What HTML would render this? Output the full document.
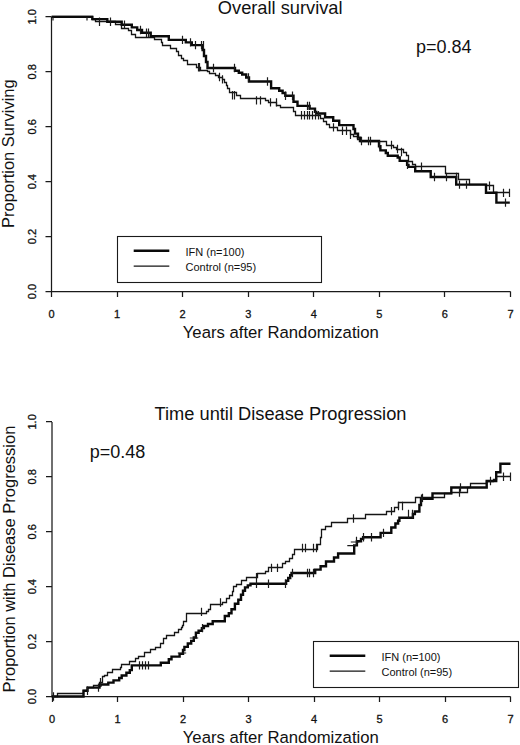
<!DOCTYPE html>
<html><head><meta charset="utf-8"><style>
html,body{margin:0;padding:0;background:#fff;}
svg{display:block;}
text{font-family:"Liberation Sans",sans-serif;fill:#111;}
.ax{fill:none;stroke:#1a1a1a;stroke-width:1.25;}
.thick{fill:none;stroke:#0a0a0a;stroke-width:2.4;stroke-linejoin:miter;stroke-linecap:butt;}
.thin{fill:none;stroke:#151515;stroke-width:1.3;}
.cen{fill:none;stroke:#1a1a1a;stroke-width:1.2;}
.tk{font-size:11px;stroke:#111;stroke-width:0.3;}
.lt{font-size:11px;}
.ti{font-size:18.25px;}
.al{font-size:16.5px;}
.yl{font-size:16.7px;}
.pv{font-size:18px;}
.lg{fill:none;stroke:#1a1a1a;stroke-width:1.1;}
</style></head><body>
<svg width="520" height="745" viewBox="0 0 520 745">
<text x="280.2" y="14.4" class="ti" text-anchor="middle">Overall survival</text>
<text x="416" y="52.8" class="pv">p=0.84</text>
<text transform="translate(14.3,153.6) rotate(-90)" class="al" text-anchor="middle">Proportion Surviving</text>
<text x="280.8" y="338.4" class="al yl" text-anchor="middle">Years after Randomization</text>
<path d="M51.50,16.90V291.50M45.50,291.50H51.50M45.50,236.50H51.50M45.50,181.50H51.50M45.50,126.50H51.50M45.50,71.50H51.50M45.50,16.50H51.50M51.50,291.50H510.50M51.50,291.50V297.00M117.50,291.50V297.00M182.50,291.50V297.00M248.50,291.50V297.00M313.50,291.50V297.00M379.50,291.50V297.00M444.50,291.50V297.00M510.50,291.50V297.00" class="ax"/><text x="51.50" y="318.20" class="tk" text-anchor="middle">0</text><text x="117.07" y="318.20" class="tk" text-anchor="middle">1</text><text x="182.64" y="318.20" class="tk" text-anchor="middle">2</text><text x="248.21" y="318.20" class="tk" text-anchor="middle">3</text><text x="313.79" y="318.20" class="tk" text-anchor="middle">4</text><text x="379.36" y="318.20" class="tk" text-anchor="middle">5</text><text x="444.93" y="318.20" class="tk" text-anchor="middle">6</text><text x="510.50" y="318.20" class="tk" text-anchor="middle">7</text><text transform="translate(36.2,291.50) rotate(-90)" class="tk" text-anchor="middle">0.0</text><text transform="translate(36.2,236.58) rotate(-90)" class="tk" text-anchor="middle">0.2</text><text transform="translate(36.2,181.66) rotate(-90)" class="tk" text-anchor="middle">0.4</text><text transform="translate(36.2,126.74) rotate(-90)" class="tk" text-anchor="middle">0.6</text><text transform="translate(36.2,71.82) rotate(-90)" class="tk" text-anchor="middle">0.8</text><text transform="translate(36.2,16.90) rotate(-90)" class="tk" text-anchor="middle">1.0</text>
<rect x="117.5" y="236.5" width="204.0" height="46.0" class="lg"/><path d="M133.7,250.75H169.3" class="thick"/><path d="M133.7,266.15H169.3" class="thin"/><text x="185.5" y="256.3" class="lt">IFN (n=100)</text><text x="185.5" y="270.6" class="lt">Control (n=95)</text>
<path d="M51.5,16.5H92.5V19.5H95.5V21.5H115.5V24.5H121.5V28.5H128.5V30.5H131.5V34.5H135.5V37.5H154.5V39.5H161.5V42.5H162.5V45.5H170.5V48.5H176.5V51.5H178.5V55.5H181.5V58.5H183.5V60.5H187.5V64.5H196.5V67.5H200.5V70.5H207.5V71.5H209.5V73.5H215.5V75.5H218.5V77.5H222.5V79.5H224.5V82.5H226.5V85.5H227.5V88.5H229.5V92.5H236.5V95.5H240.5V98.5H265.5V100.5H268.5V102.5H276.5V105.5H280.5V107.5H293.5V111.5H295.5V115.5H320.5V118.5H323.5V121.5H326.5V124.5H329.5V127.5H337.5V130.5H350.5V134.5H353.5V136.5H357.5V139.5H360.5V141.5H386.5V145.5H393.5V147.5H396.5V149.5H403.5V152.5H406.5V155.5H408.5V161.5H412.5V164.5H415.5V166.5H445.5V173.5H458.5V179.5H469.5V184.5H486.5V185.5H493.5V192.5H509.5" class="thin"/>
<path d="M51.8,16.9H92.3V19.1H107.3V21.8H121.7V24.7H131.8V27.4H137.2V30.0H142.0V32.8H150.7V36.2H168.8V39.9H185.8V42.4H191.8V45.1H202.6V50.0H204.0V56.0H206.0V62.0H207.5V68.0H235.0V70.8H238.8V72.8H242.2V74.5H246.2V77.5H249.0V81.5H271.1V88.3H279.2V90.7H282.6V93.0H285.3V95.7H293.5V101.8H297.5V105.9H309.6V108.6H315.0V111.9H316.3V113.5H325.1V117.3H333.2V120.7H339.2V125.1H353.5V129.0H355.0V133.6H358.0V137.6H360.0V141.0H379.0V146.3H380.4V150.4H385.8V153.0H387.8V155.8H397.7V157.5H399.7V160.9H407.1V164.9H408.5V166.9H415.2V171.2H430.7V177.0H456.2V184.6H486.0V192.7H496.4V202.6H509.8" class="thick"/>
<path d="M110.5,17.6V26.0M124.5,20.5V28.9M140.5,25.8V34.2M146.5,28.6V37.0M148.5,28.6V37.0M182.5,35.7V44.1M190.5,38.2V46.6M195.5,40.9V49.3M201.5,40.9V49.3M203.5,40.9V49.3M213.5,63.8V72.2M234.5,63.8V72.2M248.5,73.3V81.7M267.5,77.3V85.7M285.5,91.5V99.9M292.5,91.5V99.9M307.5,101.7V110.1M309.5,101.7V110.1M361.5,136.8V145.2M368.5,136.8V145.2M370.5,136.8V145.2M407.5,160.7V169.1M434.5,172.8V181.2M446.5,172.8V181.2M456.5,172.8V181.2M459.5,180.4V188.8M466.5,180.4V188.8M505.5,198.4V206.8M99.5,17.6V26.0M198.5,63.1V71.5M199.5,63.1V71.5M219.5,72.8V81.2M222.5,75.2V83.6M232.5,91.1V99.5M234.5,91.1V99.5M256.5,96.2V104.6M260.5,96.2V104.6M270.5,98.2V106.6M276.5,98.2V106.6M301.5,111.1V119.5M304.5,111.1V119.5M307.5,111.1V119.5M309.5,111.1V119.5M312.5,111.1V119.5M315.5,111.1V119.5M318.5,111.1V119.5M333.5,123.2V131.6M342.5,126.6V135.0M346.5,126.6V135.0M350.5,130.7V139.1M379.5,140.8V149.2M391.5,140.8V149.2M397.5,144.8V153.2M401.5,147.8V156.2M421.5,162.4V170.8M489.5,181.5V189.9M503.5,188.7V197.1M509.5,188.7V197.1M53,16.9V20.6M87,16.9V20.6" class="cen"/>
<text x="280.5" y="419.6" class="ti" text-anchor="middle">Time until Disease Progression</text>
<text x="89.8" y="458.2" class="pv">p=0.48</text>
<text transform="translate(14.8,559.1) rotate(-90)" class="al" text-anchor="middle">Proportion with Disease Progression</text>
<text x="280.8" y="743.1" class="al yl" text-anchor="middle">Years after Randomization</text>
<path d="M52.00,421.90V696.50M46.00,696.50H52.00M46.00,641.50H52.00M46.00,586.50H52.00M46.00,531.50H52.00M46.00,476.50H52.00M46.00,421.50H52.00M52.00,696.50H510.50M52.50,696.50V702.00M117.50,696.50V702.00M183.50,696.50V702.00M248.50,696.50V702.00M314.50,696.50V702.00M379.50,696.50V702.00M445.50,696.50V702.00M510.50,696.50V702.00" class="ax"/><text x="52.00" y="723.20" class="tk" text-anchor="middle">0</text><text x="117.50" y="723.20" class="tk" text-anchor="middle">1</text><text x="183.00" y="723.20" class="tk" text-anchor="middle">2</text><text x="248.50" y="723.20" class="tk" text-anchor="middle">3</text><text x="314.00" y="723.20" class="tk" text-anchor="middle">4</text><text x="379.50" y="723.20" class="tk" text-anchor="middle">5</text><text x="445.00" y="723.20" class="tk" text-anchor="middle">6</text><text x="510.50" y="723.20" class="tk" text-anchor="middle">7</text><text transform="translate(36.2,696.50) rotate(-90)" class="tk" text-anchor="middle">0.0</text><text transform="translate(36.2,641.58) rotate(-90)" class="tk" text-anchor="middle">0.2</text><text transform="translate(36.2,586.66) rotate(-90)" class="tk" text-anchor="middle">0.4</text><text transform="translate(36.2,531.74) rotate(-90)" class="tk" text-anchor="middle">0.6</text><text transform="translate(36.2,476.82) rotate(-90)" class="tk" text-anchor="middle">0.8</text><text transform="translate(36.2,421.90) rotate(-90)" class="tk" text-anchor="middle">1.0</text>
<rect x="313.5" y="641.5" width="205.0" height="46.0" class="lg"/><path d="M329.7,655.75H365.3" class="thick"/><path d="M329.7,671.15H365.3" class="thin"/><text x="381.5" y="661.3" class="lt">IFN (n=100)</text><text x="381.5" y="675.6" class="lt">Control (n=95)</text>
<path d="M51.5,696.5H57.5V693.5H83.5V690.5H87.5V687.5H93.5V685.5H99.5V682.5H102.5V676.5H104.5V675.5H107.5V674.5H107.5V672.5H112.5V669.5H120.5V667.5H121.5V664.5H129.5V661.5H135.5V658.5H138.5V656.5H144.5V652.5H150.5V649.5H155.5V647.5H160.5V643.5H163.5V638.5H166.5V635.5H174.5V632.5H178.5V629.5H181.5V627.5H182.5V625.5H183.5V621.5H186.5V613.5H206.5V611.5H208.5V609.5H210.5V604.5H222.5V602.5H226.5V598.5H229.5V595.5H232.5V591.5H233.5V586.5H236.5V584.5H241.5V580.5H246.5V577.5H257.5V573.5H265.5V571.5H268.5V567.5H282.5V563.5H285.5V561.5H289.5V558.5H292.5V554.5H294.5V549.5H317.5V544.5H320.5V537.5H321.5V529.5H325.5V526.5H331.5V522.5H347.5V518.5H365.5V514.5H386.5V511.5H394.5V507.5H398.5V502.5H415.5V497.5H444.5V493.5H451.5V492.5H467.5V487.5H470.5V483.5H486.5V481.5H493.5V479.5H496.5V476.5H510.5" class="thin"/>
<path d="M51.8,696.5H83.5V690.8H87.5V687.6H99.5V685.6H100.5V684.5H108.3V682.6H113.5V680.4H119.2V678.0H121.7V675.5H126.4V672.8H129.8V670.1H131.8V665.4H160.8V662.7H168.8V659.3H171.5V656.6H179.6V653.9H183.0V650.0H184.4V646.9H187.8V643.5H191.2V640.9H193.8V637.5H195.9V632.8H198.6V630.8H201.9V628.1H203.9V626.0H208.0V624.0H212.7V621.3H224.8V616.0H228.8V613.3H231.5V609.2H234.9V603.8H238.3V599.8H241.0V594.8H243.0V590.8H245.0V587.4H247.8V585.4H250.5V583.8H286.1V580.7H288.2V578.0H290.2V575.3H291.5V573.0H315.2V569.6H320.6V566.2H326.0V561.5H334.0V557.5H338.1V553.5H354.2V545.4H356.9V541.3H361.0V538.9H363.1V537.2H380.6V532.9H391.3V527.5H395.4V523.5H398.1V520.8H399.4V517.8H412.9V514.0H414.9V511.5H419.4V505.0H421.0V498.8H432.5V493.4H451.3V487.5H486.7V481.0H496.2V472.3H500.4V463.8H510.5" class="thick"/>
<path d="M87.5,686.6V695.0M98.5,683.4V691.8M139.5,661.2V669.6M142.5,661.2V669.6M145.5,661.2V669.6M148.5,661.2V669.6M202.5,623.9V632.3M256.5,579.6V588.0M268.5,579.6V588.0M285.5,579.6V588.0M292.5,568.8V577.2M307.5,568.8V577.2M309.5,568.8V577.2M313.5,568.8V577.2M356.5,536.8V545.2M363.5,533.0V541.4M371.5,533.0V541.4M383.5,528.7V537.1M408.5,509.8V518.2M412.5,509.8V518.2M421.5,494.6V503.0M460.5,483.3V491.7M53.5,692.3V700.7M100.5,677.9V686.3M201.5,607.7V616.1M220.5,598.3V606.7M256.5,573.1V581.5M271.5,563.7V572.1M277.5,563.7V572.1M302.5,543.8V552.2M305.5,543.8V552.2M313.5,543.8V552.2M316.5,543.8V552.2M353.5,514.3V522.7M391.5,506.9V515.3M398.5,501.8V510.2M402.5,501.8V510.2M422.5,493.7V502.1M459.5,488.3V496.7M490.5,476.8V485.2M503.5,472.5V480.9M510.5,472.5V480.9M177.8,653.0H186.2M189.8,638.0H198.2M347.3,545.6H355.7M350.8,542.0H359.2" class="cen"/>
</svg>
</body></html>
